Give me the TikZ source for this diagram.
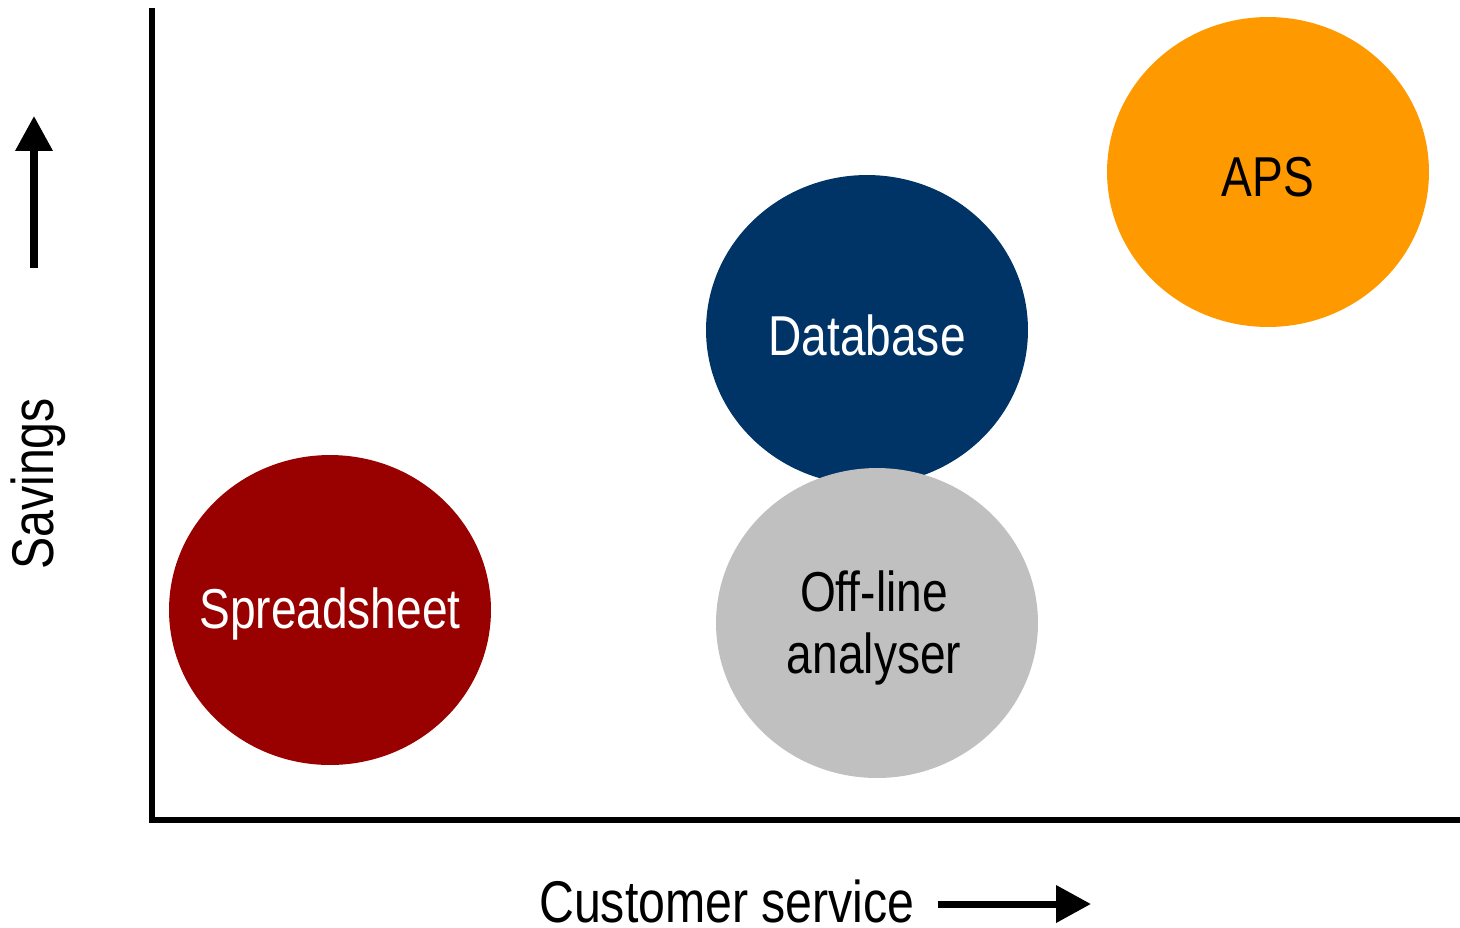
\documentclass[tikz,border=0pt]{standalone}
\usepackage{fontspec}
\setmainfont[FakeStretch=0.82]{Liberation Sans}
\usetikzlibrary{arrows.meta,shapes.geometric}
\definecolor{sred}{HTML}{990000}
\definecolor{snavy}{HTML}{003366}
\definecolor{sgray}{HTML}{C0C0C0}
\definecolor{sorange}{HTML}{FF9900}
\begin{document}
\begin{tikzpicture}[x=0.02cm,y=-0.02cm,
  bubble/.style={ellipse,minimum width=6.44cm,minimum height=6.2cm,inner sep=0pt},
  blabel/.style={inner sep=0pt,align=center,font=\fontsize{32}{35}\selectfont},
  axis/.style={line width=2.9pt},
  bigarrow/.style={line width=4pt,-{Triangle[length=0.7cm,width=0.72cm]}},
  axlabel/.style={font=\fontsize{33.5}{38}\selectfont,inner sep=0pt}]
\useasboundingbox (0,0) rectangle (1460,927);
\coordinate (ytop) at (152,8);
\coordinate (origin) at (152,820);
\coordinate (xend) at (1462,820);
\draw[axis] (ytop) -- (origin) -- (xend);
\coordinate (ya) at (34,268);
\coordinate (yb) at (34,116);
\draw[bigarrow] (ya) -- (yb);
\coordinate (xa) at (938,904);
\coordinate (xb) at (1091,904);
\draw[bigarrow] (xa) -- (xb);
\node[axlabel,rotate=90] (sav) at (38,484) {Savings};
\node[axlabel,text depth=0pt,anchor=base] (cs) at (727,922) {Customer service};
\node[bubble,fill=sred] (ss) at (330,610) {};
\node[blabel,text=white] (ssl) at (330,614) {Spreadsheet};
\node[bubble,fill=snavy] (db) at (867,330) {};
\node[blabel,text=white] (dbl) at (867,335) {Database};
\node[bubble,fill=sgray] (ol) at (877,623) {};
\node[blabel,text=black] (oll) at (874,628) {Off-line\\analyser};
\node[bubble,fill=sorange] (aps) at (1268,172) {};
\node[blabel,text=black] (apsl) at (1268,177) {APS};
\end{tikzpicture}
\end{document}
